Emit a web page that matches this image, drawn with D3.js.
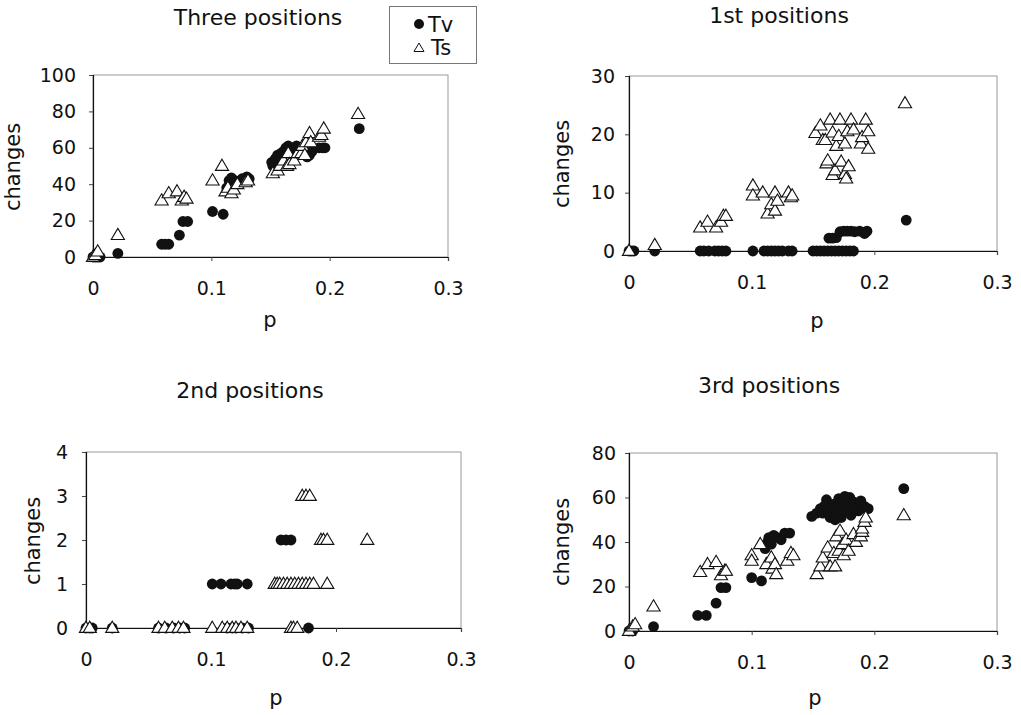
<!DOCTYPE html>
<html>
<head>
<meta charset="utf-8">
<script src="https://cdn.jsdelivr.net/npm/d3@7"></script>
<style>
  html, body { margin: 0; padding: 0; background: #fff; }
  svg { display: block; }
  text { font-family: "DejaVu Sans", sans-serif; fill: #111; }
</style>
</head>
<body>
<svg id="chart" width="1021" height="715"></svg>
<script>
// ---------- data (p, changes) ----------
const panelTitles = ["Three positions", "1st positions", "2nd positions", "3rd positions"];
const seriesNames = ["Tv", "Ts"];
const xTicks = [0, 0.1, 0.2, 0.3];
const yTicksThree = [0, 20, 40, 60, 80, 100];
const yTicksFirst = [0, 10, 20, 30];
const yTicksSecond = [0, 1, 2, 3, 4];
const yTicksThird = [0, 20, 40, 60, 80];

const threeTv = [
  [0,0],[0.002,0],[0.004,0],[0.006,0],[0.021,2],[0.058,7],[0.061,7],[0.064,7],[0.073,12],
  [0.076,19.5],[0.08,19.5],[0.101,25],[0.11,23.5],[0.113,38],[0.115,42],[0.117,43.5],[0.12,42],
  [0.126,43],[0.13,44],[0.132,43],[0.151,52],[0.152,50],[0.154,54],[0.156,56],[0.157,52],[0.159,57],
  [0.161,58],[0.163,60],[0.165,61],[0.167,60],[0.168,58],[0.17,59],[0.172,61],[0.175,57],[0.177,60],
  [0.179,58],[0.181,55],[0.183,56],[0.185,58],[0.191,60],[0.194,60],[0.196,60],[0.225,70.5]
];
const threeTs = [
  [0,0],[0.002,1],[0.004,3],[0.021,12],[0.058,31],[0.064,35],[0.071,36],[0.075,31],[0.077,33],
  [0.079,32],[0.101,42],[0.109,50],[0.112,36],[0.114,38],[0.117,35],[0.119,37],[0.122,40],
  [0.129,41],[0.131,42],[0.152,46],[0.156,47.5],[0.158,50],[0.161,53],[0.164,50],[0.165,57],
  [0.166,51],[0.17,53],[0.173,57],[0.176,57],[0.177,61],[0.179,56],[0.18,63],[0.183,68],[0.184,63],
  [0.191,66],[0.193,67],[0.195,70.5],[0.224,78.5]
];

const firstTv = [
  [0,0],[0.002,0],[0.004,0],[0.021,0],[0.058,0],[0.061,0],[0.065,0],[0.07,0],[0.073,0],[0.076,0],
  [0.079,0],[0.101,0],[0.11,0],[0.113,0],[0.116,0],[0.119,0],[0.122,0],[0.125,0],[0.13,0],[0.133,0],
  [0.15,0],[0.153,0],[0.156,0],[0.159,0],[0.162,0],[0.165,0],[0.168,0],[0.171,0],[0.174,0],
  [0.177,0],[0.18,0],[0.183,0],
  [0.163,2.2],[0.166,2.2],[0.169,2.3],[0.172,3.3],[0.175,3.4],[0.178,3.4],[0.181,3.4],
  [0.184,3.3],[0.188,3.4],[0.192,3],[0.194,3.4],[0.226,5.3]
];
const firstTs = [
  [0,0],[0.021,1],[0.058,4],[0.064,5],[0.071,4],[0.075,5],[0.077,6],[0.079,6],
  [0.101,11.2],[0.101,9.5],[0.109,10],[0.113,6.4],[0.116,8],[0.119,10],[0.119,6.9],[0.121,8.6],
  [0.13,10],[0.132,9.2],[0.133,9.5],
  [0.152,20.2],[0.156,21.5],[0.158,19],[0.16,19],[0.161,15],[0.162,15.5],[0.164,22.5],[0.166,20.3],
  [0.166,13],[0.168,13.8],[0.169,18],[0.171,19.7],[0.172,22.5],[0.173,15.3],[0.176,13.2],
  [0.177,12.4],[0.176,18.4],[0.178,20.5],[0.179,14.5],[0.181,22.5],[0.183,20.8],[0.189,18.4],
  [0.19,19.5],[0.193,22.5],[0.195,20.5],[0.195,17.5],[0.225,25.3]
];

const secondTv = [
  [0,0],[0.003,0],[0.005,0],[0.021,0],[0.058,0],[0.064,0],[0.07,0],[0.075,0],[0.079,0],
  [0.113,0],[0.117,0],[0.12,0],[0.125,0],[0.13,0],[0.178,0],
  [0.101,1],[0.108,1],[0.116,1],[0.119,1],[0.121,1],[0.129,1],
  [0.156,2],[0.16,2],[0.164,2]
];
const secondTs = [
  [0,0],[0.003,0],[0.021,0],[0.058,0],[0.063,0],[0.069,0],[0.074,0],[0.078,0],[0.101,0],
  [0.109,0],[0.113,0],[0.117,0],[0.12,0],[0.124,0],[0.129,0],[0.164,0],[0.166,0],[0.169,0],
  [0.151,1],[0.153,1],[0.155,1],[0.158,1],[0.161,1],[0.164,1],[0.167,1],[0.17,1],[0.173,1],
  [0.176,1],[0.179,1],[0.182,1],[0.193,1],
  [0.188,2],[0.19,2],[0.193,2],[0.225,2],
  [0.173,3],[0.176,3],[0.179,3]
];

const thirdTv = [
  [0,0],[0.003,0],[0.02,2],[0.056,7],[0.063,7],[0.071,12.5],[0.075,19.5],[0.079,19.5],
  [0.1,24],[0.108,22.5],[0.111,37],[0.113,40],[0.114,42],[0.116,39],[0.118,43],[0.121,42],[0.124,41],
  [0.127,44],[0.131,44],
  [0.149,51.5],[0.153,53],[0.156,55],[0.158,53],[0.159,56],[0.161,59],[0.163,55],[0.164,51],[0.166,56],
  [0.167,57],[0.168,50],[0.169,53],[0.171,59.5],[0.172,55],[0.173,51],[0.174,55],[0.175,58],
  [0.176,60.5],[0.177,54],[0.178,57],[0.18,60],[0.181,52],[0.182,56],[0.183,58],[0.185,56],
  [0.187,54],[0.189,58.5],[0.192,56],[0.193,55],[0.195,55],[0.224,64]
];
const thirdTs = [
  [0,0],[0.003,2],[0.005,3],[0.02,11],[0.058,26.5],[0.064,30],[0.071,31],[0.075,25],[0.078,27],
  [0.079,27],[0.1,34],[0.1,31.5],[0.107,39],[0.112,30],[0.116,33],[0.117,28],[0.119,30],
  [0.12,25.5],[0.129,31.5],[0.132,35],[0.134,34],
  [0.153,25.5],[0.156,29],[0.158,33],[0.162,37.5],[0.164,29],[0.167,35],[0.168,29],[0.169,42.5],
  [0.171,36],[0.172,45],[0.174,39],[0.175,34],[0.177,41],[0.179,36],[0.183,43.5],[0.185,40],
  [0.189,42.5],[0.19,44.5],[0.19,46],[0.192,49],[0.193,51],[0.224,52]
];

// ---------- layout ----------
const panels = [
  { title: panelTitles[0], tv: threeTv, ts: threeTs, yMax: 100, yTicks: yTicksThree,
    x0: 93, x1: 448, y0: 257, y1: 75, titleX: 258, titleY: 25, pX: 270, pY: 327, cX: 20, cY: 167, yPad: 13 },
  { title: panelTitles[1], tv: firstTv, ts: firstTs, yMax: 30, yTicks: yTicksFirst,
    x0: 629, x1: 997, y0: 251, y1: 76, titleX: 779, titleY: 23, pX: 817, pY: 328, cX: 569, cY: 164, yPad: 10 },
  { title: panelTitles[2], tv: secondTv, ts: secondTs, yMax: 4, yTicks: yTicksSecond,
    x0: 86, x1: 461, y0: 628, y1: 452, titleX: 250, titleY: 398, pX: 276, pY: 705, cX: 40, cY: 541, yPad: 14 },
  { title: panelTitles[3], tv: thirdTv, ts: thirdTs, yMax: 80, yTicks: yTicksThird,
    x0: 629, x1: 997, y0: 631, y1: 453, titleX: 769, titleY: 393, pX: 815, pY: 705, cX: 569, cY: 542, yPad: 9 }
];

const svg = d3.select("#chart");
const triPath = "M0,-6.8L6.6,4.4L-6.6,4.4Z";
const fmt = d => d === 0 ? "0" : String(d);

panels.forEach(P => {
  const x = d3.scaleLinear().domain([0, 0.3]).range([P.x0, P.x1]);
  const y = d3.scaleLinear().domain([0, P.yMax]).range([P.y0, P.y1]);
  const g = svg.append("g");

  g.append("rect")
    .attr("x", x(0)).attr("y", y(P.yMax))
    .attr("width", x(0.3) - x(0)).attr("height", y(0) - y(P.yMax))
    .attr("fill", "none").attr("stroke", "#999").attr("stroke-width", 1);

  const xa = g.append("g").attr("transform", `translate(0,${y(0)})`)
    .call(d3.axisBottom(x).tickValues(xTicks).tickSize(4).tickPadding(21).tickFormat(fmt));
  xa.select(".domain").attr("stroke", "#111").attr("stroke-width", 1.2);
  xa.selectAll(".tick line").attr("stroke", "#444");
  xa.selectAll("text").attr("font-size", 19).attr("font-family", "DejaVu Sans, sans-serif").attr("fill", "#111");

  const ya = g.append("g").attr("transform", `translate(${x(0)},0)`)
    .call(d3.axisLeft(y).tickValues(P.yTicks).tickSize(4).tickPadding(P.yPad).tickFormat(d3.format("d")));
  ya.select(".domain").attr("stroke", "#111").attr("stroke-width", 1.2);
  ya.selectAll(".tick line").attr("stroke", "#444");
  ya.selectAll("text").attr("font-size", 19).attr("font-family", "DejaVu Sans, sans-serif").attr("fill", "#111");

  g.append("g").selectAll("circle").data(P.tv).join("circle")
    .attr("cx", d => x(d[0])).attr("cy", d => y(d[1])).attr("r", 5.4)
    .attr("fill", "#111");

  g.append("g").selectAll("path").data(P.ts).join("path")
    .attr("d", triPath)
    .attr("transform", d => `translate(${x(d[0])},${y(d[1])})`)
    .attr("fill", "#fff").attr("stroke", "#111").attr("stroke-width", 1.1);

  g.append("text").attr("x", P.titleX).attr("y", P.titleY)
    .attr("text-anchor", "middle").attr("font-size", 22).text(P.title);
  g.append("text").attr("x", P.pX).attr("y", P.pY)
    .attr("text-anchor", "middle").attr("font-size", 21).text("p");
  g.append("text").attr("transform", `translate(${P.cX},${P.cY}) rotate(-90)`)
    .attr("text-anchor", "middle").attr("font-size", 21).text("changes");
});

// legend
const lg = svg.append("g");
lg.append("rect").attr("x", 389.5).attr("y", 6.5).attr("width", 87).attr("height", 57)
  .attr("fill", "#fff").attr("stroke", "#777").attr("stroke-width", 1);
lg.append("circle").attr("cx", 419).attr("cy", 24).attr("r", 5).attr("fill", "#111");
lg.append("text").attr("x", 428).attr("y", 32).attr("font-size", 21).text(seriesNames[0]);
lg.append("path").attr("d", "M0,-5L5,3.5L-5,3.5Z").attr("transform", "translate(419,48)")
  .attr("fill", "#fff").attr("stroke", "#111").attr("stroke-width", 1);
lg.append("text").attr("x", 431).attr("y", 55).attr("font-size", 21).text(seriesNames[1]);
</script>
</body>
</html>
